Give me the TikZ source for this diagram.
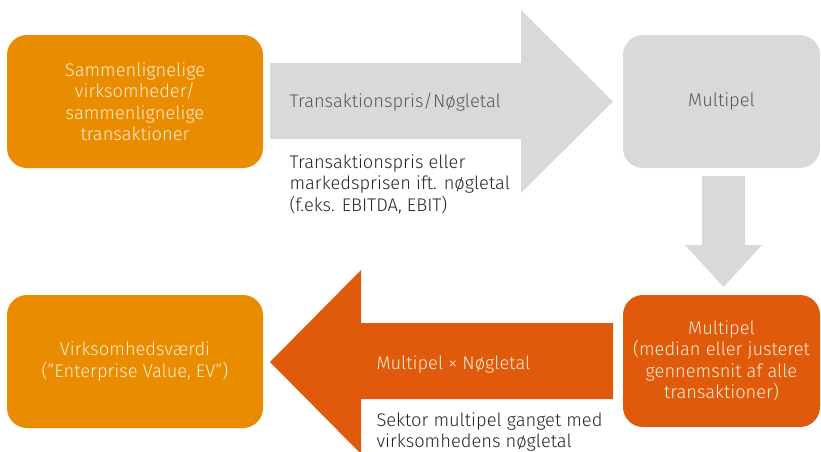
\documentclass[tikz,border=0pt]{standalone}
\usepackage{fontspec}
\setmainfont{Fira Sans Light}
\usetikzlibrary{positioning}
\definecolor{boxorange}{HTML}{E98C00}
\definecolor{deeporange}{HTML}{E05A0C}
\definecolor{flowgray}{HTML}{D9D9D9}
\definecolor{boxtext}{HTML}{FDEBD2}
\definecolor{graytext}{HTML}{595959}
\definecolor{notetext}{HTML}{262626}

\begin{document}
\begin{tikzpicture}[x=1pt, y=-1pt,
        base/.style={font=\fontsize{18.3}{21.5}\selectfont},
        valbox/.style={base, rectangle, rounded corners=20pt, align=center, text=boxtext, minimum height=133pt},
        widebox/.style={valbox, minimum width=256pt, fill=boxorange},
        narrowbox/.style={valbox, minimum width=197pt},
        arrowlabel/.style={base, anchor=west},
        note/.style={base, anchor=west, align=left, text=notetext}]
        \useasboundingbox (0,0) rectangle (821,451);
        \clip (0,0) rectangle (821,451);

        % boxes
        \node [widebox] (peers) at (135,101.5) {Sammenlignelige\\virksomheder/\\sammenlignelige\\transaktioner};
        \node [narrowbox, fill=flowgray, text=graytext] (multiple) at (721.5,101.5) {Multipel};
        \node [narrowbox, fill=deeporange, minimum height=132pt] (median) at (721.5,361) {Multipel\\(median eller justeret\\gennemsnit af alle\\transaktioner)};
        \node [widebox] (ev) at (135,361.5) {Virksomhedsværdi\\(”Enterprise Value, EV”)};

        % block arrows
        \fill [flowgray] (270,63) -- (521,63) -- (521,10) -- (613,101.5) -- (521,193) -- (521,139) -- (270,139) -- cycle;
        \fill [flowgray] (702,176) -- (745,176) -- (745,245) -- (762,245) -- (723.5,287) -- (685,245) -- (702,245) -- cycle;
        \fill [deeporange] (613,323) -- (361,323) -- (361,270) -- (270,362) -- (361,454) -- (361,399) -- (613,399) -- cycle;

        % labels
        \node [arrowlabel, text=graytext] (ratio) at (286,102) {Transaktionspris/Nøgletal};
        \node [note] (rationote) at (286,184) {Transaktionspris eller\\markedsprisen ift. nøgletal\\(f.eks. EBITDA, EBIT)};
        \node [arrowlabel, text=boxtext] (product) at (373,364) {Multipel × Nøgletal};
        \node [note] (productnote) at (373,432) {Sektor multipel ganget med\\virksomhedens nøgletal};
\end{tikzpicture}
\end{document}
